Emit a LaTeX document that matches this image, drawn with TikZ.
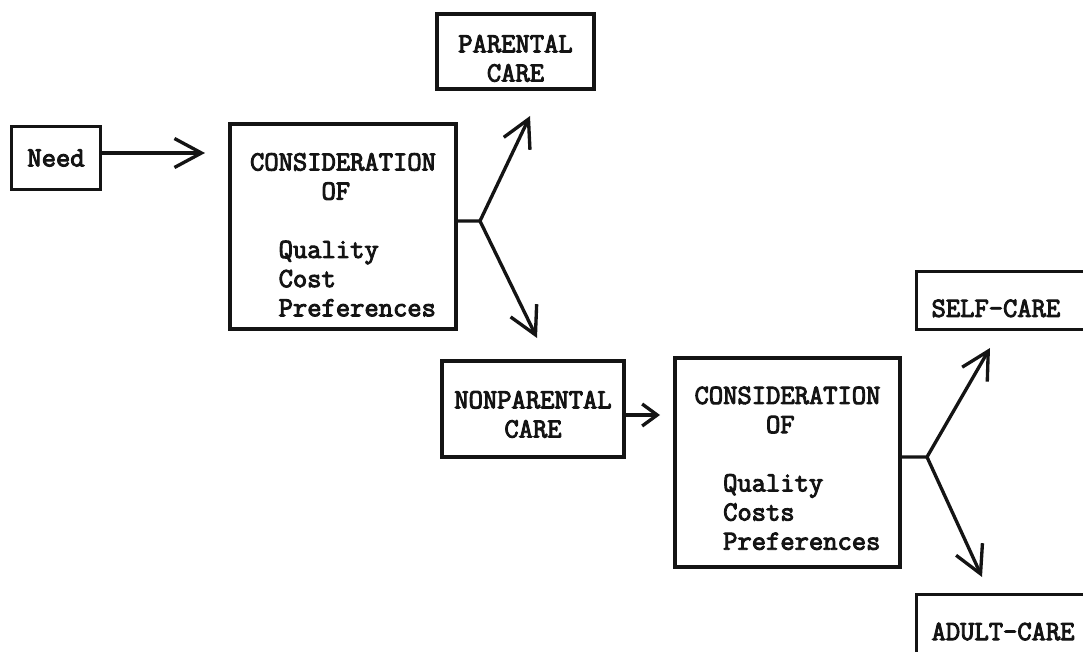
\documentclass[tikz,border=0pt]{standalone}
\usepackage{fontspec}
\newfontfamily\carefont{Latin Modern Mono}[FakeBold=3.5]
\usetikzlibrary{arrows.meta,positioning}
\definecolor{careInk}{HTML}{141414}
\newcommand{\boxgap}[1]{\rule{0pt}{#1}}
\tikzset{
  every picture/.style={font=\carefont\fontsize{15.8}{16.6}\selectfont, text=careInk},
  care box/.style={draw=careInk, line width=1.8pt, align=center, inner sep=0pt},
  choice box/.style={care box, align=left, anchor=north west,
    inner xsep=3mm, text width=34mm},
  care line/.style={draw=careInk, line width=1.9pt, line cap=round},
  care arrow/.style={care line, -{Straight Barb[length=5.4mm,width=5.8mm]}},
  care small arrow/.style={care line, -{Straight Barb[length=3mm,width=4.4mm]}}
}

\begin{document}
\begin{tikzpicture}[x=0.02cm,y=-0.02cm]
  \useasboundingbox (0,0) rectangle (1083,652);
  \clip (0,0) rectangle (1083,652);
  % first decision
  \node[care box, minimum width=17.8mm, minimum height=12.6mm] (need) at (56,158) {Need};
  \node[care box, align=left, minimum width=45.2mm, minimum height=41mm] (cons1) at (343,226.5)
    {\boxgap{19.4pt}CONSIDERATION\\\phantom{CONSI}OF\\[16.6pt]
     \phantom{CO}Quality\\\phantom{CO}Cost\\\phantom{CO}Preferences};
  \node[care box, minimum width=31.4mm, minimum height=15mm] (parental) at (515.5,51.5)
    {\boxgap{17.7pt}PARENTAL\\CARE};
  \node[care box, minimum width=36.4mm, minimum height=19.2mm] (nonparental) at (533,409)
    {\boxgap{16pt}NONPARENTAL\\CARE};
  % second decision
  \node[care box, align=left, minimum width=45mm, minimum height=41.8mm] (cons2) at (787.5,462.5)
    {\boxgap{16.5pt}CONSIDERATION\\\phantom{CONSI}OF\\[16.6pt]
     \phantom{CO}Quality\\\phantom{CO}Costs\\\phantom{CO}Preferences};
  \node[choice box, minimum height=11.6mm] (self) at (915,270) {\boxgap{18.7pt}SELF-CARE};
  \node[choice box, minimum height=14.8mm] (adult) at (915,593) {ADULT-CARE};

  \coordinate (needtip) at (205,153);
  \draw[care arrow] (need.east |- needtip) -- (needtip);

  \coordinate (fork1) at (480,221);
  \coordinate (parentaltip) at (530,116);
  \coordinate (nonparentaltip) at (537,338);
  \draw[care arrow] (cons1.east |- fork1) -- (fork1) -- (parentaltip);
  \draw[care arrow] (fork1) -- (nonparentaltip);

  \coordinate (cons2tip) at (660,415);
  \draw[care small arrow] (nonparental.east |- cons2tip) -- (cons2tip);

  \coordinate (fork2) at (927,457);
  \coordinate (selftip) at (990,348);
  \coordinate (adulttip) at (982,577);
  \draw[care arrow] (cons2.east |- fork2) -- (fork2) -- (selftip);
  \draw[care arrow] (fork2) -- (adulttip);
\end{tikzpicture}
\end{document}
